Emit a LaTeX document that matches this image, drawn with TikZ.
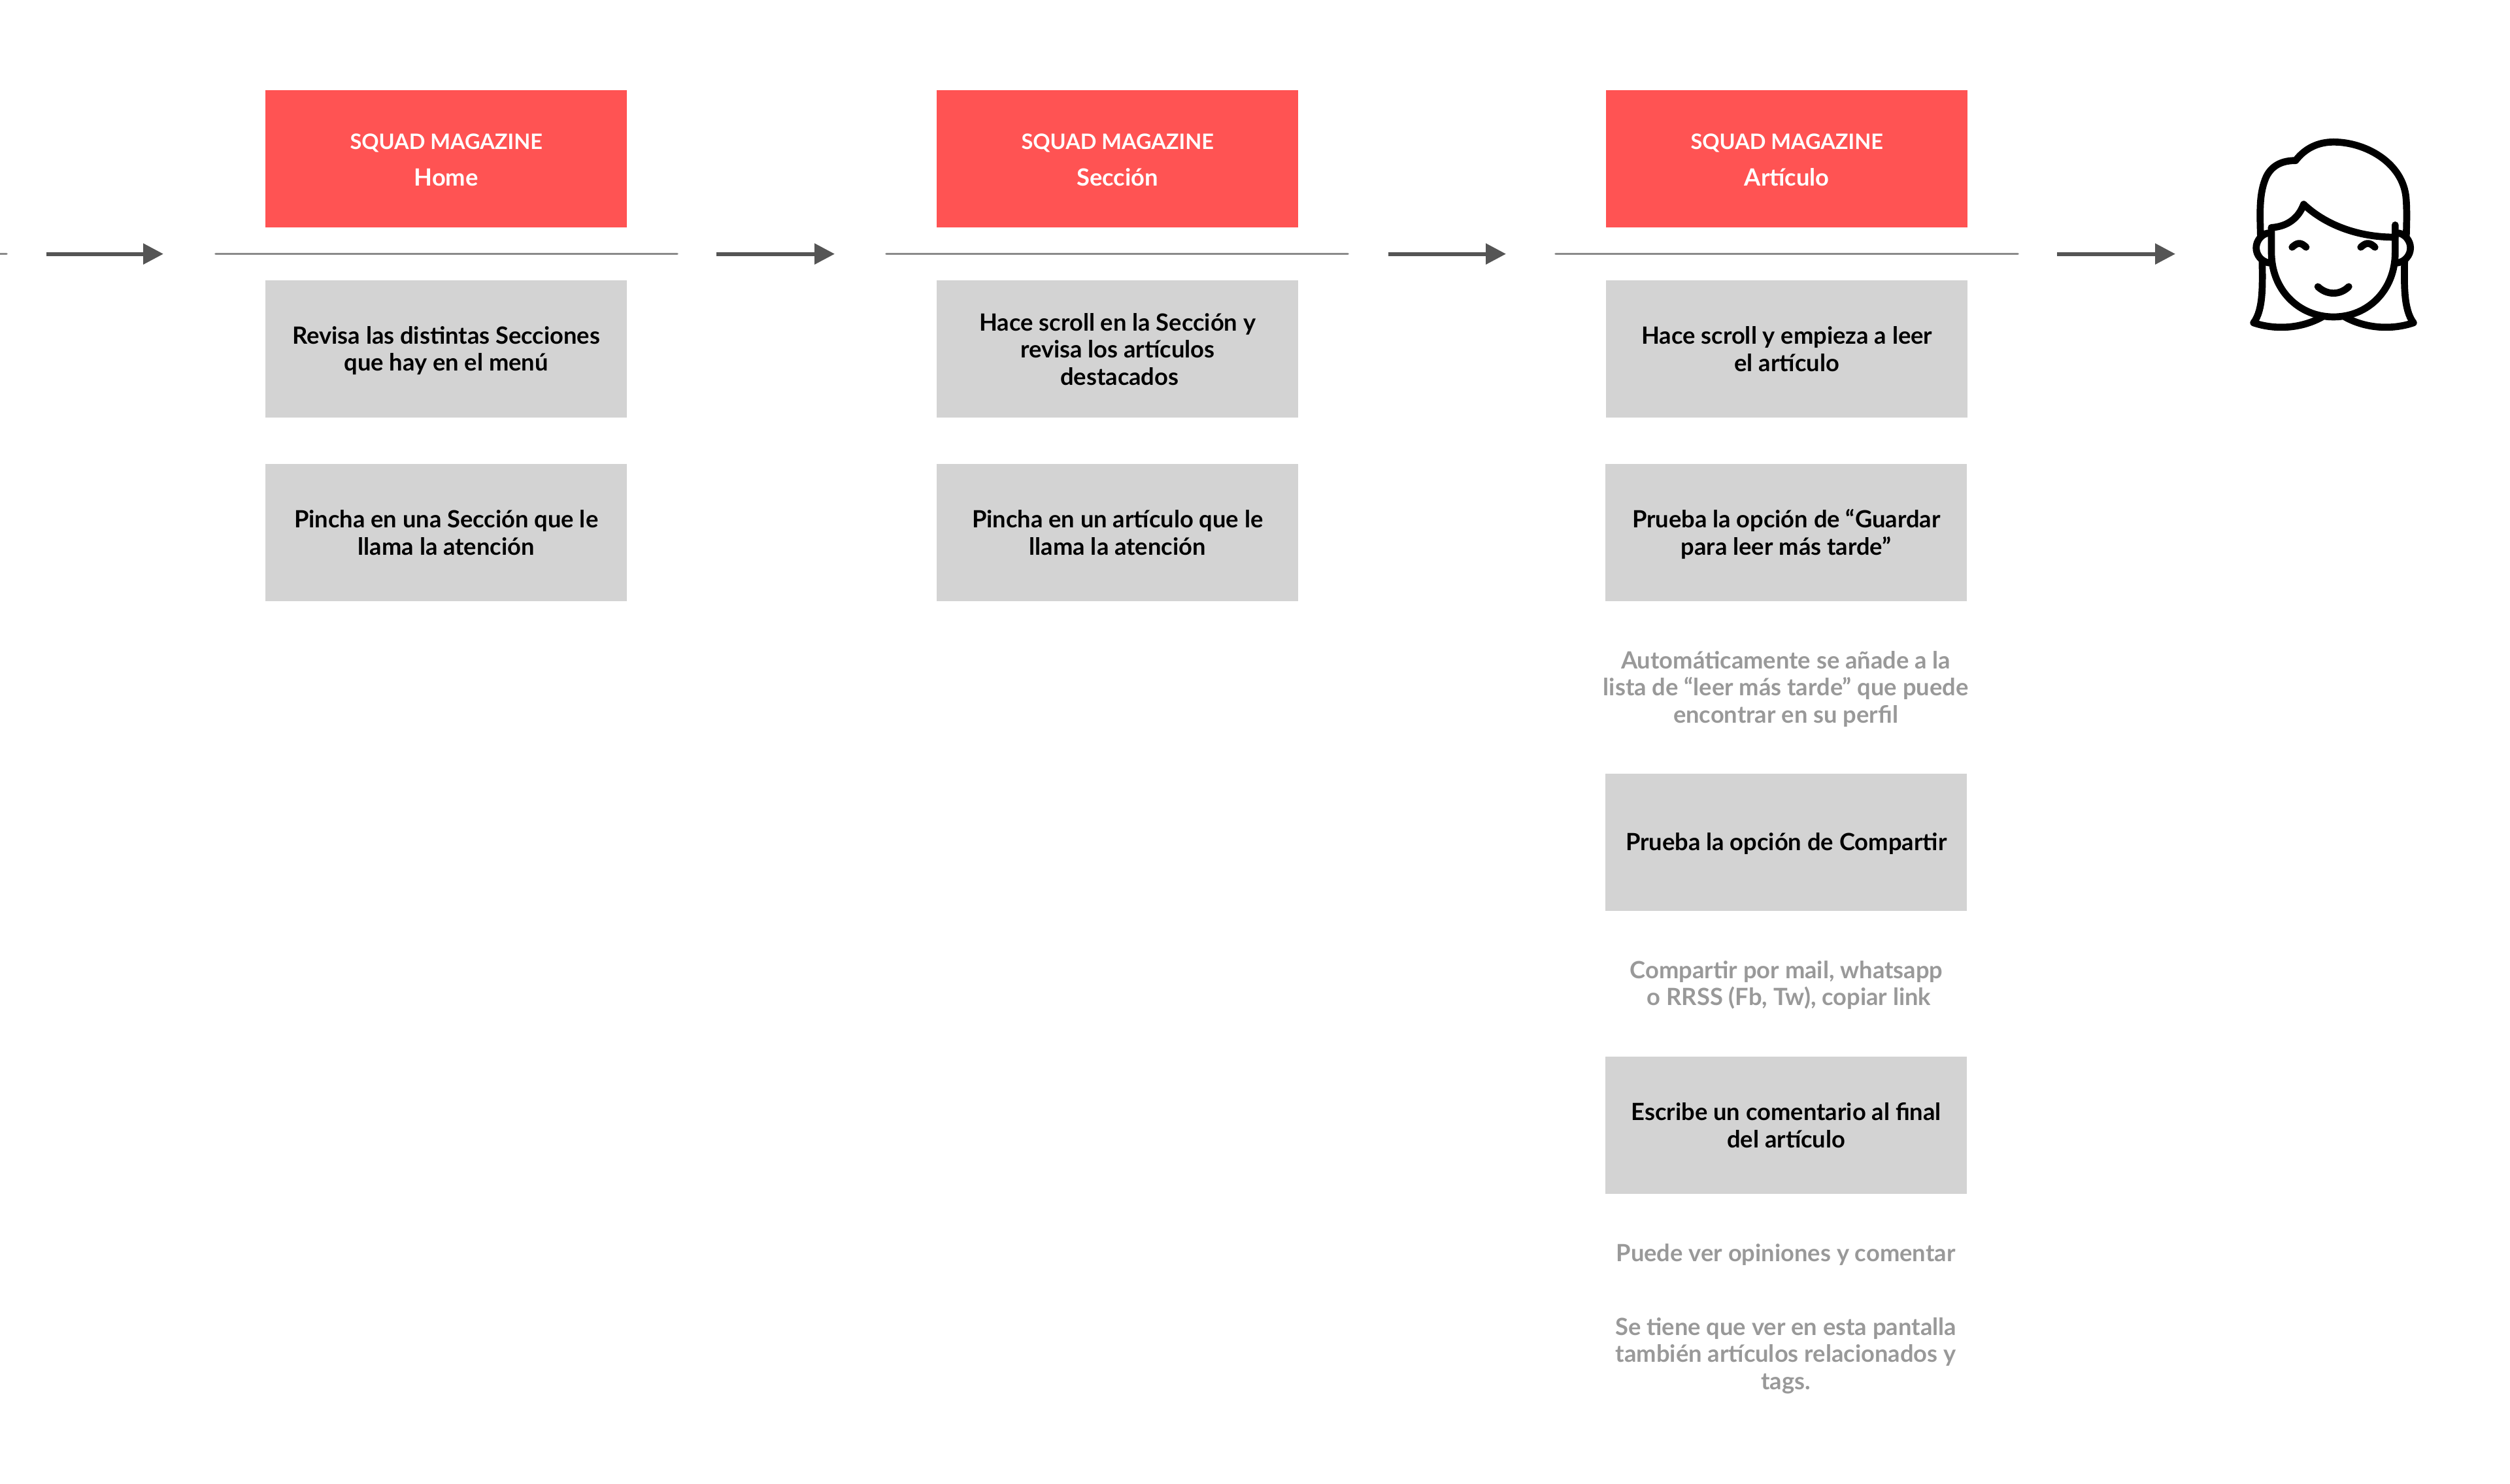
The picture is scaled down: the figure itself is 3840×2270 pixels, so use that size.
\documentclass[tikz,border=0pt]{standalone}
\usepackage{fontspec}
\setmainfont{Lato}
\usetikzlibrary{arrows.meta}
\definecolor{redbox}{HTML}{FF5353}
\definecolor{greybox}{HTML}{D3D3D3}
\definecolor{greytext}{HTML}{999999}
\definecolor{rulegrey}{HTML}{8A8A8A}
\definecolor{arrowgrey}{HTML}{555555}
\newcommand{\bodyfont}{\fontsize{36.3}{41.6}\selectfont\bfseries}
\newcommand{\headfont}{\fontsize{32.5}{56}\selectfont\bfseries}
\newcommand{\subfont}{\fontsize{36.3}{56}\selectfont\bfseries}
\tikzset{
 x=1pt,y=-1pt,
 boxbase/.style={rectangle,inner sep=0pt,minimum width=553pt,minimum height=210pt,anchor=north west},
 redcard/.style={boxbase,fill=redbox},
 greycard/.style={boxbase,fill=greybox},
 redtext/.style={inner sep=0pt,align=center,text=white,font=\headfont,yshift=-2.5pt},
 greytextstyle/.style={inner sep=0pt,align=center,text=black,font=\bodyfont,yshift=-0.6pt},
 greytextdeep/.style={greytextstyle,yshift=-2.2pt},
 note/.style={inner sep=0pt,align=center,text=greytext,font=\bodyfont},
 timeline/.style={draw=rulegrey,line width=3.6pt,line cap=round},
 flowarrow/.style={draw=arrowgrey,line width=6pt,-{Triangle[length=31pt,width=31pt,fill=arrowgrey]}},
 facestroke/.style={draw=black,line width=10.7pt,line cap=round,line join=round}
}
\begin{document}
\begin{tikzpicture}
\useasboundingbox (0,0) rectangle (3840,2270);
\fill[white] (0,0) rectangle (3840,2270);
% cards
\node[redcard,label={[redtext]center:SQUAD MAGAZINE\\\subfont Home}] (h1) at (406,137.5) {};
\node[redcard,label={[redtext]center:SQUAD MAGAZINE\\\subfont Sección}] (h2) at (1433,137.5) {};
\node[redcard,label={[redtext]center:SQUAD MAGAZINE\\\subfont Artículo}] (h3) at (2457,137.5) {};
\node[greycard,label={[greytextdeep]center:Revisa las distintas Secciones\\que hay en el menú}] (a1) at (406,428.5) {};
\node[greycard,label={[greytextstyle]center:Pincha en una Sección que le\\llama la atención}] (a2) at (406,709.5) {};
\node[greycard,label={[greytextstyle]center:Hace scroll en la Sección y\\revisa los artículos\\\hspace*{6pt}destacados}] (b1) at (1433,428.5) {};
\node[greycard,label={[greytextstyle]center:Pincha en un artículo que le\\llama la atención}] (b2) at (1433,709.5) {};
\node[greycard,label={[greytextstyle]center:Hace scroll y empieza a leer\\el artículo}] (c1) at (2457,428.5) {};
\node[greycard,label={[greytextdeep]center:Prueba la opción de “Guardar\\para leer más tarde”}] (c2) at (2456,709.5) {};
\node[greycard,label={[greytextdeep]center:Prueba la opción de Compartir}] (c3) at (2456,1183.5) {};
\node[greycard,label={[greytextstyle]center:Escribe un comentario al final\\del artículo}] (c4) at (2456,1616.5) {};
% notes
\node[note] (n1) at (2732,1054.5) {Automáticamente se añade a la\\lista de “leer más tarde” que puede\\encontrar en su perfil};
\node[note] (n2) at (2733,1507.5) {Compartir por mail, whatsapp\\\hspace*{8pt}o RRSS (Fb, Tw), copiar link};
\node[note] (n3) at (2732,1920.5) {Puede ver opiniones y comentar};
\node[note] (n4) at (2732,2074.5) {Se tiene que ver en esta pantalla\\también artículos relacionados y\\tags.};
% rule ends and arrows
\coordinate (s0) at (-5,388.6); \coordinate (s1) at (10,388.6);
\coordinate (l1a) at (330,388.6); \coordinate (l1b) at (1036,388.6);
\coordinate (l2a) at (1356,388.6); \coordinate (l2b) at (2062,388.6);
\coordinate (l3a) at (2380,388.6); \coordinate (l3b) at (3087,388.6);
\coordinate (p0a) at (71,388.6); \coordinate (p0b) at (250,388.6);
\coordinate (p1a) at (1096,388.6); \coordinate (p1b) at (1277,388.6);
\coordinate (p2a) at (2124,388.6); \coordinate (p2b) at (2304,388.6);
\coordinate (p3a) at (3147,388.6); \coordinate (p3b) at (3328,388.6);
\draw[timeline] (s0) -- (s1);
\draw[timeline] (l1a) -- (l1b);
\draw[timeline] (l2a) -- (l2b);
\draw[timeline] (l3a) -- (l3b);
\draw[flowarrow] (p0a) -- (p0b);
\draw[flowarrow] (p1a) -- (p1b);
\draw[flowarrow] (p2a) -- (p2b);
\draw[flowarrow] (p3a) -- (p3b);
% face
\begin{scope}[shift={(3380,180)},x=0.3333pt,y=-0.3333pt]
\draw[facestroke] (235,540) .. controls (232,430) and (228,345) .. (262,270) .. controls (290,215) and (340,197) .. (396,197) .. controls (440,140) and (500,112) .. (570,112) .. controls (720,112) and (890,210) .. (903,370) .. controls (908,430) and (905,500) .. (904,540);
\draw[facestroke] (285,505) .. controls (360,500) and (410,460) .. (433,398) .. controls (530,490) and (680,550) .. (853,549);
\draw[facestroke] (853,493) -- (853,620) .. controls (853,790) and (730,915) .. (570,915) .. controls (410,915) and (285,790) .. (285,620) -- (285,505);
\draw[facestroke] (270,530) .. controls (240,535) and (215,565) .. (215,598) .. controls (215,632) and (240,662) .. (275,667);
\draw[facestroke] (868,530) .. controls (898,535) and (923,565) .. (923,598) .. controls (923,632) and (898,662) .. (863,667);
\draw[facestroke] (243,660) .. controls (243,760) and (250,880) .. (203,942) .. controls (300,975) and (420,970) .. (518,915);
\draw[facestroke] (896,660) .. controls (895,760) and (890,880) .. (937,942) .. controls (840,975) and (720,970) .. (622,915);
\draw[facestroke] (380,595) .. controls (405,572) and (420,572) .. (444,595);
\draw[facestroke] (695,595) .. controls (720,572) and (735,572) .. (760,595);
\draw[facestroke] (498,776) .. controls (540,816) and (600,816) .. (640,776);
\end{scope}
\end{tikzpicture}
\end{document}
